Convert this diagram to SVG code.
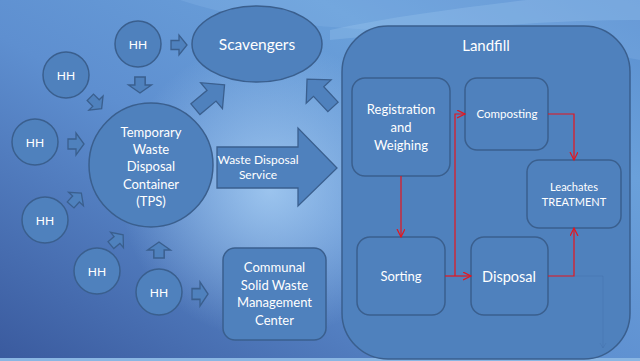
<svg xmlns="http://www.w3.org/2000/svg" xmlns:xlink="http://www.w3.org/1999/xlink" width="640" height="361" viewBox="0 0 640 361">
<defs>
<linearGradient id="bg" x1="0" y1="1" x2="1" y2="0">
<stop offset="0" stop-color="#3a5a9e"/>
<stop offset="0.45" stop-color="#5e8fd0"/>
<stop offset="0.75" stop-color="#6aa0da"/>
<stop offset="1" stop-color="#5a8fd0"/>
</linearGradient>
<radialGradient id="hl" cx="270" cy="190" r="150" gradientUnits="userSpaceOnUse">
<stop offset="0" stop-color="#a6cdf3" stop-opacity="0.85"/>
<stop offset="1" stop-color="#a6cdf3" stop-opacity="0"/>
</radialGradient>
<path id="sa" d="M-8,-4.5 H0 V-10 L8,0 L0,10 V4.5 H-8 Z"/>
<path id="ba" d="M-19,-7 H2 V-17 L19,0 L2,17 V7 H-19 Z"/>
<marker id="ah" markerWidth="10" markerHeight="10" refX="8" refY="4" orient="auto" markerUnits="userSpaceOnUse">
<path d="M0,0 L8,4 L0,8" fill="none" stroke="#e8141c" stroke-width="1.2"/>
</marker>
</defs>
<style>
.nd{fill:#4f81bd;stroke:#3a5f8e;stroke-width:1.5}
.ar{fill:#4f81bd;stroke:#3a5f8e;stroke-width:1.3}
.t{font-family:Lato,"Liberation Sans",sans-serif;fill:#ffffff;text-anchor:middle}
.rl{fill:none;stroke:#e8141c;stroke-width:1.2}
</style>
<rect width="640" height="361" fill="url(#bg)"/>
<rect width="640" height="361" fill="url(#hl)"/>
<path d="M180,0 C300,40 420,20 640,60 L640,0 Z" fill="#8fbdea" opacity="0.25"/>
<path d="M330,30 C420,10 540,0 600,-10 L640,0 L640,20 C540,20 440,30 330,40 Z" fill="#a9d0f5" opacity="0.25"/>
<rect x="0" y="358" width="640" height="3" fill="#8ab6e3"/>

<g id="landfill">
<rect class="nd" x="342" y="26" width="288" height="333" rx="46"/>
<text class="t" x="486" y="51" font-size="15">Landfill</text>
</g>
<g id="registration">
<rect class="nd" x="352" y="78" width="98" height="98" rx="13"/>
<text class="t" font-size="13"><tspan x="401" y="114">Registration</tspan><tspan x="401" y="132">and</tspan><tspan x="401" y="150">Weighing</tspan></text>
</g>
<g id="composting">
<rect class="nd" x="465" y="78" width="83" height="72" rx="12"/>
<text class="t" x="507" y="118" font-size="11.5">Composting</text>
</g>
<g id="leachates">
<rect class="nd" x="527" y="160" width="94" height="68" rx="12"/>
<text class="t" font-size="11"><tspan x="574" y="191">Leachates</tspan><tspan x="574" y="206">TREATMENT</tspan></text>
</g>
<g id="sorting">
<rect class="nd" x="357" y="237" width="88" height="78" rx="13"/>
<text class="t" x="401" y="281" font-size="13">Sorting</text>
</g>
<g id="disposal">
<rect class="nd" x="471" y="237" width="77" height="78" rx="13"/>
<text class="t" x="509" y="282" font-size="14.5">Disposal</text>
</g>

<g id="scavengers">
<ellipse class="nd" cx="257" cy="44" rx="65" ry="38"/>
<text class="t" x="257" y="50" font-size="15.5">Scavengers</text>
</g>
<g id="tps">
<circle class="nd" cx="151" cy="165" r="62"/>
<text class="t" font-size="13"><tspan x="151" y="137">Temporary</tspan><tspan x="151" y="154">Waste</tspan><tspan x="151" y="171">Disposal</tspan><tspan x="151" y="189">Container</tspan><tspan x="151" y="206">(TPS)</tspan></text>
</g>
<g id="communal">
<rect class="nd" x="223" y="248" width="103" height="92" rx="12"/>
<text class="t" font-size="13"><tspan x="274.5" y="272">Communal</tspan><tspan x="274.5" y="290">Solid Waste</tspan><tspan x="274.5" y="307">Management</tspan><tspan x="274.5" y="325">Center</tspan></text>
</g>
<g id="hh1"><circle class="nd" cx="138" cy="44" r="23"/><text class="t" x="138" y="48.5" font-size="12">HH</text></g>
<g id="hh2"><circle class="nd" cx="66" cy="75" r="23"/><text class="t" x="66" y="79.5" font-size="12">HH</text></g>
<g id="hh3"><circle class="nd" cx="35" cy="142" r="23"/><text class="t" x="35" y="146.5" font-size="12">HH</text></g>
<g id="hh4"><circle class="nd" cx="45" cy="220" r="23"/><text class="t" x="45" y="224.5" font-size="12">HH</text></g>
<g id="hh5"><circle class="nd" cx="97" cy="271" r="23"/><text class="t" x="97" y="275.5" font-size="12">HH</text></g>
<g id="hh6"><circle class="nd" cx="159" cy="292" r="23"/><text class="t" x="159" y="296.5" font-size="12">HH</text></g>

<g id="connectors">
<use href="#sa" class="ar" transform="translate(179,45)"/>
<use href="#sa" class="ar" transform="translate(140,85) rotate(90) scale(1,1.15)"/>
<use href="#sa" class="ar" transform="translate(96,103) rotate(45)"/>
<use href="#sa" class="ar" transform="translate(76,144) scale(1,1.1)"/>
<use href="#sa" class="ar" transform="translate(76,199) rotate(-48)"/>
<use href="#sa" class="ar" transform="translate(117,240) rotate(-40)"/>
<use href="#sa" class="ar" transform="translate(159,250) rotate(-90) scale(1,1.15)"/>
<use href="#sa" class="ar" transform="translate(200,294) scale(1,1.2)"/>
<use href="#ba" class="ar" transform="translate(210,97) rotate(-40)"/>
<use href="#ba" class="ar" transform="translate(320,93) rotate(-133)"/>
<g id="wds">
<path class="ar" d="M217,147 H298 V128 L337,168 L298,206 V188 H217 Z"/>
<text class="t" font-size="12"><tspan x="258" y="164">Waste Disposal</tspan><tspan x="258" y="179">Service</tspan></text>
</g>
<path class="rl" d="M401,176 V237" marker-end="url(#ah)"/>
<path class="rl" d="M445,276 H471" marker-end="url(#ah)"/>
<path class="rl" d="M455,276 V114 H465" marker-end="url(#ah)"/>
<path class="rl" d="M548,114 H574 V160" marker-end="url(#ah)"/>
<path class="rl" d="M548,276 H574 V228" marker-end="url(#ah)"/>
<path d="M574,276 H603 V348 M600,343 L603,348 L606,343" fill="none" stroke="#3d6aa5" stroke-width="0.8" opacity="0.35"/>
</g>
</svg>
